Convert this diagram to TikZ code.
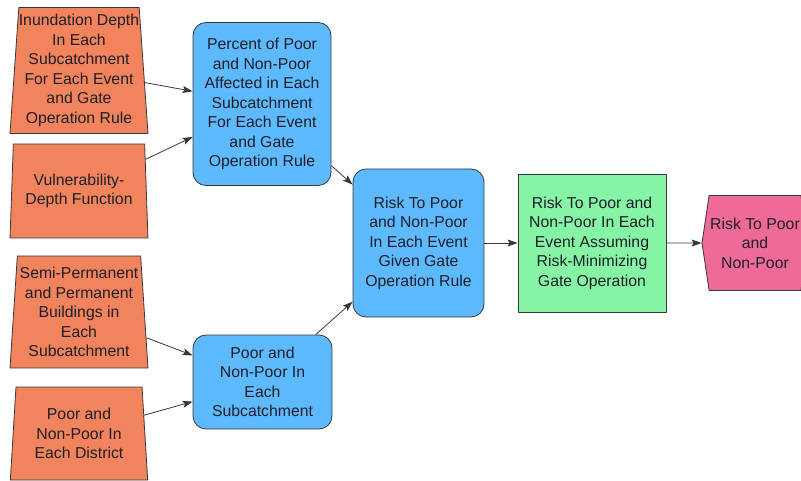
\documentclass[tikz,border=0pt]{standalone}
\usepackage{fontspec}
\setmainfont{Liberation Sans}
\usetikzlibrary{shapes.geometric,shapes.symbols,arrows.meta}
\definecolor{inp}{RGB}{241,132,92}
\definecolor{cal}{RGB}{94,186,255}
\definecolor{opt}{RGB}{133,245,165}
\definecolor{res}{RGB}{238,106,152}
\definecolor{edge}{RGB}{55,55,60}
\definecolor{txt}{RGB}{30,30,40}
\begin{document}
\begin{tikzpicture}[x=1pt,y=-1pt,>={Stealth[length=10pt,width=7pt,inset=2pt]}, line join=round,
    box/.style={draw=edge,line width=0.8pt,text=txt,align=center,inner sep=0pt,
      font=\fontsize{15.8}{19.5}\selectfont},
    inbox/.style={box,fill=inp,trapezium,trapezium angle=85.5,trapezium stretches=true,
      minimum width=138pt},
    calcbox/.style={box,fill=cal,rectangle,rounded corners=13pt},
    link/.style={->,draw=edge,line width=0.8pt}]
    \useasboundingbox (0,0) rectangle (801,481);
    % inputs
    \node[inbox,minimum height=126pt] (depth) at (79,70.5)
        {Inundation Depth\\In Each\\Subcatchment\\For Each Event\\and Gate\\Operation Rule};
    \node[inbox,minimum height=94pt] (vuln) at (79,191) {Vulnerability-\\Depth Function};
    \node[inbox,minimum height=112pt] (bldg) at (79,312)
        {Semi-Permanent\\and Permanent\\Buildings in\\Each\\Subcatchment};
    \node[inbox,minimum height=93pt] (dist) at (79,433.5) {Poor and\\Non-Poor In\\Each District};
    % calculations
    \node[calcbox,minimum width=138pt,minimum height=163pt] (pct) at (262,104)
        {Percent of Poor\\and Non-Poor\\Affected in Each\\Subcatchment\\For Each Event\\and Gate\\Operation Rule};
    \node[calcbox,minimum width=139pt,minimum height=94pt] (pop) at (262.5,382)
        {Poor and\\Non-Poor In\\Each\\Subcatchment};
    \node[calcbox,minimum width=131pt,minimum height=148pt] (risk) at (418.5,243)
        {Risk To Poor\\and Non-Poor\\In Each Event\\Given Gate\\Operation Rule};
    \node[box,fill=opt,minimum width=148pt,minimum height=138pt] (minrisk) at (592,243)
        {Risk To Poor and\\Non-Poor In Each\\Event Assuming\\Risk-Minimizing\\Gate Operation};
    \node[box,fill=res,signal,signal to=west and east,signal pointer angle=163,
        minimum width=106pt,minimum height=95pt] (total) at (755,243)
        {Risk To Poor\\and\\Non-Poor};
    % links
    \draw[link] (depth) -- (pct);
    \draw[link] (vuln) -- (pct);
    \draw[link] (bldg) -- (pop);
    \draw[link] (dist) -- (pop);
    \draw[link] (pct) -- (risk);
    \draw[link] (pop) -- (risk);
    \draw[link] (risk) -- (minrisk);
    \draw[link] (minrisk) -- (total);
\end{tikzpicture}
\end{document}
